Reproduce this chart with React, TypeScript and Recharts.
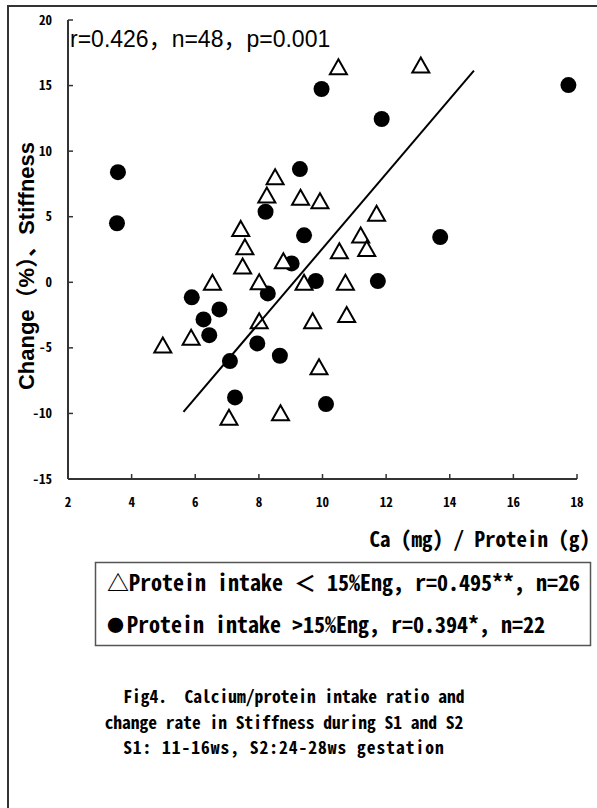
import { Scatter, ScatterChart, XAxis, YAxis } from "recharts";

// Ca/protein ratio vs. change in stiffness, split by protein share of energy
const lowRatio = [
  4.98, 5.87, 6.54, 7.43, 7.56, 7.49, 7.06, 8.01, 8.01, 8.25, 8.51, 8.77, 8.68,
  9.31, 9.92, 9.42, 9.69, 9.89, 10.5, 10.53, 10.72, 10.76, 11.2, 11.39, 11.7, 13.09,
];
const lowChange = [
  -4.79, -4.2, 0, 4.11, 2.71, 1.24, -10.3, 0.04, -2.93, 6.65, 8.05, 1.64, -9.95,
  6.48, 6.22, 0, -2.93, -6.44, 16.44, 2.4, 0, -2.45, 3.6, 2.58, 5.26, 16.57,
];
const highRatio = [
  3.57, 3.54, 9.97, 17.73, 11.86, 9.29, 8.21, 9.42, 9.03, 9.79, 13.7, 11.74,
  8.28, 5.89, 6.76, 6.26, 6.44, 7.95, 8.66, 7.09, 7.25, 10.11,
];
const highChange = [
  8.4, 4.5, 14.74, 15.04, 12.45, 8.63, 5.38, 3.58, 1.44, 0.1, 3.45, 0.09,
  -0.85, -1.15, -2.07, -2.83, -4.03, -4.66, -5.6, -6.01, -8.78, -9.29,
];
// regression line endpoints (all 48 subjects)
const fitRatio = [5.63, 14.76];
const fitChange = [-9.88, 16.14];

const xTicks = [2, 4, 6, 8, 10, 12, 14, 16, 18];
const yTicks = [-15, -10, -5, 0, 5, 10, 15, 20];

const STATS = "r=0.426，n=48，p=0.001";
const LEGEND_LOW = "Protein intake ＜ 15%Eng, r=0.495**, n=26";
const LEGEND_HIGH = "Protein intake >15%Eng, r=0.394*, n=22";
const CAPTION = [
  "Fig4.  Calcium/protein intake ratio and",
  "change rate in Stiffness during S1 and S2",
  "S1: 11-16ws, S2:24-28ws gestation",
];
const CAPTION_CX = [294, 284, 284];
const CAPTION_SPACING = [0, 0, 1];

const zip = (xs: number[], ys: number[]) => xs.map((x, i) => ({ x, y: ys[i] }));
const lowData = zip(lowRatio, lowChange);
const highData = zip(highRatio, highChange);
const fitData = zip(fitRatio, fitChange);

const AXIS = "#333";
const FRAME = "#8c8c8c";
const MONO = '"Noto Sans Mono CJK JP", "DejaVu Sans Mono", monospace';
const SANS = '"Liberation Sans", Arial, "Noto Sans CJK JP", sans-serif';

const Y_GAP = 16;
const X_GAP = 18;

function YTick({ x, y, payload }: any) {
  const ax = x + Y_GAP;
  return (
    <g>
      <line x1={ax} x2={ax + 5} y1={y} y2={y} stroke={AXIS} strokeWidth={1.5} />
      <text x={x} y={y} dy={4.5} textAnchor="end" fontFamily={MONO} fontWeight="bold" fontSize={13} fill="#000">
        {payload.value}
      </text>
    </g>
  );
}

function XTick({ x, y, payload }: any) {
  const ay = y - X_GAP;
  return (
    <g>
      <line x1={x} x2={x} y1={ay} y2={ay - 5} stroke={AXIS} strokeWidth={1.5} />
      <text x={x} y={y} dy={9.5} textAnchor="middle" fontFamily={MONO} fontWeight="bold" fontSize={13} fill="#000">
        {payload.value}
      </text>
    </g>
  );
}

const Dot = ({ cx, cy }: any) => <circle cx={cx} cy={cy} r={8} fill="#000" />;

const Tri = ({ cx, cy }: any) => (
  <polygon
    points={`${cx},${cy - 7.5} ${cx + 8.5},${cy + 7.5} ${cx - 8.5},${cy + 7.5}`}
    fill="#fff"
    stroke="#000"
    strokeWidth={2}
  />
);

const NoDot = () => <g />;

export default function App() {
  return (
    <div style={{ position: "absolute", left: 0, top: 0, width: 597, height: 808, background: "#fff", overflow: "hidden" }}>
      <ScatterChart width={597} height={560} margin={{ top: 20, right: 20, bottom: 0, left: 0 }}>
        <XAxis
          type="number"
          dataKey="x"
          domain={[2, 18]}
          ticks={xTicks}
          height={81}
          tickSize={0}
          tickMargin={X_GAP}
          tick={XTick}
          axisLine={{ stroke: AXIS, strokeWidth: 2 }}
          interval={0}
        />
        <YAxis
          type="number"
          dataKey="y"
          domain={[-15, 20]}
          ticks={yTicks}
          width={68}
          tickSize={0}
          tickMargin={Y_GAP}
          tick={YTick}
          axisLine={{ stroke: AXIS, strokeWidth: 2 }}
          interval={0}
        />
        <XAxis xAxisId="top" orientation="top" type="number" domain={[2, 18]} height={0} tick={false} tickLine={false} axisLine={{ stroke: FRAME, strokeWidth: 1.5 }} />
        <YAxis yAxisId="right" orientation="right" type="number" domain={[-15, 20]} width={0} tick={false} tickLine={false} axisLine={{ stroke: FRAME, strokeWidth: 1.5 }} />
        <Scatter data={highData} shape={Dot} isAnimationActive={false} />
        <Scatter data={lowData} shape={Tri} isAnimationActive={false} />
        <Scatter data={fitData} shape={NoDot} line={{ stroke: "#000", strokeWidth: 2 }} isAnimationActive={false} />
      </ScatterChart>

      <svg width={597} height={808} style={{ position: "absolute", left: 0, top: 0, pointerEvents: "none" }}>
        <rect x={8} y={6} width={700} height={900} fill="none" stroke={AXIS} strokeWidth={2} />
        <text x={70} y={47} fontFamily={SANS} fontSize={23} fill="#000">
          {STATS}
        </text>
        <text transform="translate(34,266) rotate(-90)" textAnchor="middle" fontFamily={SANS} fontWeight="bold" fontSize={22} fill="#000">
          Change（%）、Stiffness
        </text>
        <text x={590} y={547} textAnchor="end" fontFamily={MONO} fontWeight="bold" fontSize={21} fill="#000">
          Ca (mg) / Protein (g)
        </text>
        <rect x={95.5} y={562.5} width={495} height={83} fill="#fff" stroke="#555" strokeWidth={1.5} />
        <text x={107} y={591} fontFamily={MONO} fontWeight="bold" fontSize={22} fill="#000" xmlSpace="preserve">
          <tspan>△</tspan>
          {LEGEND_LOW}
        </text>
        <text x={107} y={633} fontFamily={MONO} fontWeight="bold" fontSize={22} fill="#000" xmlSpace="preserve">
          <tspan fontSize={17} dy={-1}>●</tspan>
          <tspan dy={1} dx={3}>{LEGEND_HIGH}</tspan>
        </text>
        {CAPTION.map((line, i) => (
          <text
            key={i}
            x={CAPTION_CX[i]}
            y={703 + i * 25.5}
            textAnchor="middle"
            fontFamily={MONO}
            fontWeight="bold"
            fontSize={17.5}
            letterSpacing={CAPTION_SPACING[i]}
            fill="#000"
            xmlSpace="preserve"
          >
            {line}
          </text>
        ))}
      </svg>
    </div>
  );
}
